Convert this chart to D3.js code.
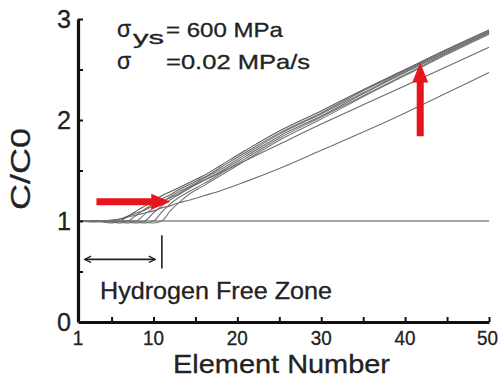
<!DOCTYPE html>
<html><head><meta charset="utf-8">
<script src="https://cdn.jsdelivr.net/npm/d3@7"></script>
<style>
html,body{margin:0;padding:0;background:#fff;}
svg{display:block;}
text{font-family:"Liberation Sans","DejaVu Sans",sans-serif;fill:#222;stroke:#222;stroke-width:0.3px;}
</style></head>
<body><svg id="c" width="499" height="380"></svg>
<script>
// ---- data ----
const elements = [1, 3, 5, 6, 7, 8, 9, 10, 11, 12, 13, 14, 16, 18, 21, 25, 30, 35, 40, 45, 50];
const baseline = [1,1,1,1,1,1,1,1,1,1,1,1,1,1,1,1,1,1,1,1,1];
const curveA = [1.00,1.00,1.01,1.02,1.04,1.06,1.08,1.10,1.13,1.15,1.18,1.20,1.25,1.30,1.39,1.52,1.70,1.88,2.07,2.27,2.47];
const curveB = [1.00,0.99,1.00,1.02,1.05,1.08,1.11,1.15,1.19,1.23,1.27,1.32,1.40,1.48,1.60,1.76,1.96,2.15,2.34,2.53,2.72];
const curveC1 = [1.00,1.00,0.98,1.00,1.05,1.10,1.15,1.20,1.25,1.29,1.33,1.37,1.45,1.55,1.70,1.89,2.09,2.30,2.50,2.70,2.89];
const curveC2 = [1.00,1.00,0.99,0.98,1.00,1.06,1.12,1.17,1.22,1.26,1.31,1.35,1.43,1.53,1.68,1.87,2.07,2.29,2.49,2.69,2.88];
const curveC3 = [1.00,1.00,1.00,0.99,0.98,1.00,1.07,1.13,1.19,1.24,1.29,1.33,1.42,1.51,1.66,1.86,2.06,2.27,2.48,2.68,2.87];
const curveC4 = [1.00,1.00,1.00,1.00,0.99,0.98,1.00,1.08,1.15,1.21,1.26,1.31,1.40,1.49,1.64,1.84,2.04,2.26,2.47,2.67,2.87];
const curveC5 = [1.00,1.00,1.00,1.00,1.00,0.99,0.98,1.00,1.09,1.17,1.23,1.28,1.37,1.47,1.62,1.82,2.03,2.24,2.45,2.66,2.86];
const curveC6 = [1.00,1.00,1.00,1.00,1.00,1.00,0.99,0.98,1.00,1.10,1.18,1.25,1.35,1.45,1.60,1.80,2.01,2.23,2.44,2.65,2.85];
const seriesNames = ["A","B","C1","C2","C3","C4","C5","C6"];
const seriesValues = [curveA, curveB, curveC1, curveC2, curveC3, curveC4, curveC5, curveC6];
const seriesColors = ["#707070","#6a6a6a","#5a5a5a","#666","#6e7a6e","#6a6a78","#7a6e6e","#6a806a"];
const xTickLabels = [1, 10, 20, 30, 40, 50];
const xTicks = [5, 10, 15, 20, 25, 30, 35, 40, 45, 50];
const yTickLabels = [0, 1, 2, 3];
const yTicks = [0.5, 1, 1.5, 2, 2.5, 3];
// annotation anchors (data units)
const freeZone = {x0: 1.8, x1: 10.2, y: 0.62, bar: 11, barY0: 0.53, barY1: 0.86};
const redH = {x0: 3.2, x1: 12.0, y: 1.19};
const redV = {x: 41.8, y0: 1.84, y1: 2.57};

// ---- scales ----
const svg = d3.select("#c");
const x = d3.scaleLinear().domain([1, 50]).range([78, 489]);
const y = d3.scaleLinear().domain([0, 3]).range([322, 19]);

// ---- curves ----
const line = d3.line().x((d,i)=>x(elements[i])).y(d=>y(d)).curve(d3.curveMonotoneX);
svg.append("path").datum(baseline).attr("d", line)
  .attr("fill","none").attr("stroke","#8a8a8a").attr("stroke-width",1.6);
seriesValues.forEach((vals,k)=>{
  svg.append("path").datum(vals).attr("d", line)
    .attr("fill","none").attr("stroke", seriesColors[k]).attr("stroke-width",1.1)
    .attr("class","series-"+seriesNames[k]);
});

// ---- axes ----
const gx = svg.append("g").attr("transform",`translate(0,${y(0)})`)
  .call(d3.axisBottom(x).tickValues(xTicks).tickSizeInner(-5).tickSizeOuter(0).tickFormat(""));
const gy = svg.append("g").attr("transform",`translate(${x(1)},0)`)
  .call(d3.axisLeft(y).tickValues(yTicks).tickSizeInner(-5).tickSizeOuter(0).tickFormat(""));
[gx,gy].forEach(g=>{
  g.select(".domain").attr("stroke","#111").attr("stroke-width",3.2);
  g.selectAll(".tick line").attr("stroke","#111").attr("stroke-width",2);
});

svg.append("g").selectAll("text").data(xTickLabels).join("text")
  .attr("x", d=> d===50 ? 498 : x(d)).attr("y", 345)
  .attr("text-anchor", d=> d===50 ? "end" : "middle")
  .attr("font-size",20).attr("textLength", d=>String(d).length*10.5).attr("lengthAdjust","spacingAndGlyphs")
  .text(d=>d);
svg.append("g").selectAll("text").data(yTickLabels).join("text")
  .attr("x", 71).attr("y", d=>y(d)+9).attr("text-anchor","end")
  .attr("font-size",26).attr("textLength",14).attr("lengthAdjust","spacingAndGlyphs")
  .text(d=>d);

svg.append("text").attr("x",173).attr("y",373).attr("font-size",26)
  .attr("textLength",217).attr("lengthAdjust","spacingAndGlyphs").text("Element Number");
svg.append("text").attr("transform","translate(30,210) rotate(-90)").attr("font-size",27)
  .attr("textLength",82).attr("lengthAdjust","spacingAndGlyphs").text("C/C0");

// ---- annotations ----
svg.append("text").attr("x",117).attr("y",37).attr("font-size",23).text("σ");
svg.append("text").attr("x",133).attr("y",44).attr("font-size",19)
  .attr("textLength",31).attr("lengthAdjust","spacingAndGlyphs").text("ys");
svg.append("text").attr("x",166).attr("y",37).attr("font-size",21)
  .attr("textLength",117).attr("lengthAdjust","spacingAndGlyphs").text("= 600 MPa");
svg.append("text").attr("x",117).attr("y",69).attr("font-size",23).text("σ");
svg.append("text").attr("x",166).attr("y",69).attr("font-size",21)
  .attr("textLength",144).attr("lengthAdjust","spacingAndGlyphs").text("=0.02 MPa/s");

svg.append("text").attr("x",100).attr("y",299).attr("font-size",24)
  .attr("textLength",232).attr("lengthAdjust","spacingAndGlyphs").text("Hydrogen Free Zone");

// free zone double arrow
const defs = svg.append("defs");
defs.append("marker").attr("id","ch").attr("viewBox","0 0 10 10").attr("refX",9).attr("refY",5)
  .attr("markerWidth",5).attr("markerHeight",5).attr("orient","auto-start-reverse")
  .append("path").attr("d","M1,1 L9,5 L1,9").attr("fill","none").attr("stroke","#222").attr("stroke-width",1.6);
svg.append("line").attr("x1",x(freeZone.x0)).attr("x2",x(freeZone.x1))
  .attr("y1",y(freeZone.y)).attr("y2",y(freeZone.y))
  .attr("stroke","#222").attr("stroke-width",1.6)
  .attr("marker-start","url(#ch)").attr("marker-end","url(#ch)");
svg.append("line").attr("x1",x(freeZone.bar)).attr("x2",x(freeZone.bar))
  .attr("y1",y(freeZone.barY0)).attr("y2",y(freeZone.barY1))
  .attr("stroke","#222").attr("stroke-width",1.6);

// red arrows
const red = "#e8141c";
{
  const x0=x(redH.x0), x1=x(redH.x1), yy=y(redH.y);
  svg.append("path").attr("fill",red)
    .attr("d",`M${x0},${yy-3.5} L${x1-19},${yy-3.5} L${x1-19},${yy-8} L${x1},${yy} L${x1-19},${yy+8} L${x1-19},${yy+3.5} L${x0},${yy+3.5} Z`);
}
{
  const xx=x(redV.x), y0=y(redV.y0), y1=y(redV.y1);
  svg.append("path").attr("fill",red)
    .attr("d",`M${xx-3.5},${y0} L${xx-3.5},${y1+20} L${xx-8},${y1+20} L${xx},${y1} L${xx+8},${y1+20} L${xx+3.5},${y1+20} L${xx+3.5},${y0} Z`);
}
</script></body></html>
